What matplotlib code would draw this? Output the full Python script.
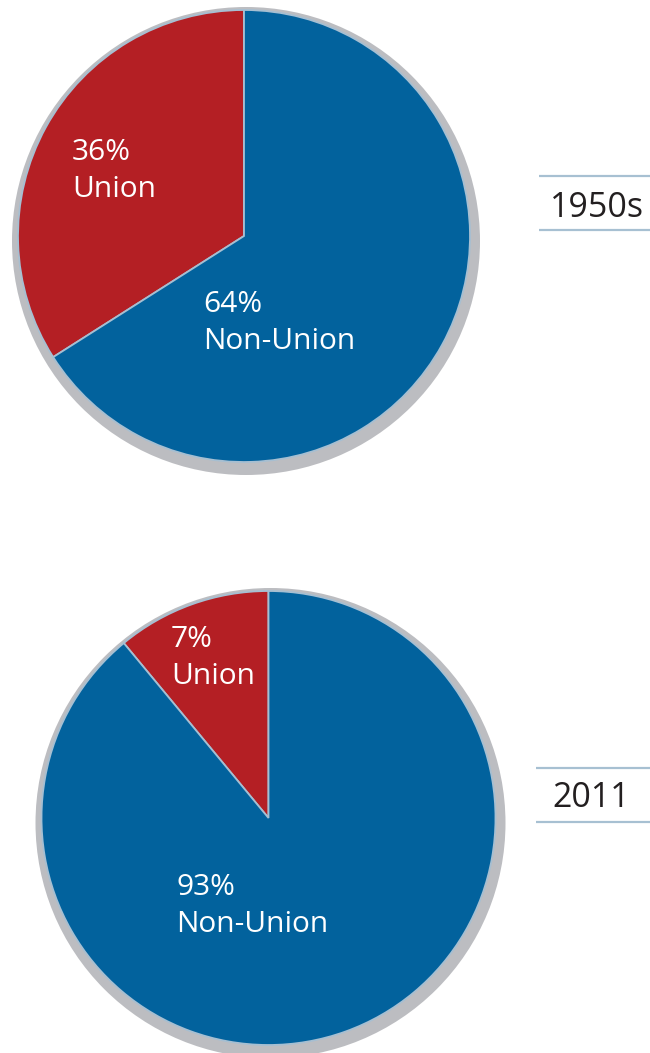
import matplotlib.pyplot as plt
from matplotlib.patches import Circle

# 数据
eras = ['1950s', '2011']
union_pct = [36, 7]          # printed labels
non_union_pct = [64, 93]
# wedge sizes as drawn in the graphic (the 2011 union slice is drawn wider than 7%)
union_drawn = [34, 11]
slice_names = ['Union', 'Non-Union']

# 样式
red = '#b41f24'
blue = '#02629d'
edge = '#a6bfd2'
shadow = '#bcbdc1'
rule = '#a7c0d2'

W, H = 650, 1053
fig = plt.figure(figsize=(W / 100, H / 100), dpi=100)
ax = fig.add_axes([0, 0, 1, 1])
ax.set_xlim(0, W)
ax.set_ylim(0, H)
ax.set_aspect('equal')
ax.axis('off')
plt.rcParams['font.family'] = ['Open Sans', 'DejaVu Sans']

# 饼图布局 (像素坐标, y向下)
centers = [(244, 236), (268.5, 818)]
radius = [226, 227]
label_pos = [((72, 160), (203, 312)), ((171, 647), (176, 895))]
year_pos = [(597, 217), (591, 807)]
rule_y = [(176, 230), (768, 822)]
rule_x0 = [539, 536]

for i, era in enumerate(eras):
    cx, cy = centers[i]
    cy = H - cy
    r = radius[i]

    # 阴影
    ax.add_patch(Circle((cx + 2, cy - 5), r + 8, color=shadow, zorder=0, lw=0))

    ax.pie([union_drawn[i], 100 - union_drawn[i]], colors=[red, blue],
           startangle=90, counterclock=True, center=(cx, cy), radius=r,
           wedgeprops=dict(edgecolor=edge, linewidth=1.3), frame=True)

    # 标签
    vals = [union_pct[i], non_union_pct[i]]
    for (lx, ly), v, name in zip(label_pos[i], vals, slice_names):
        ax.text(lx, H - ly, f'{v}%', color='white', fontsize=21.5,
                ha='left', va='baseline')
        ax.text(lx, H - ly - 37, name, color='white', fontsize=21.5,
                ha='left', va='baseline')

    # 年份
    yx, yy = year_pos[i]
    ax.text(yx, H - yy, era, color='#231f20', fontsize=24.5,
            ha='center', va='baseline')
    for ry in rule_y[i]:
        ax.plot([rule_x0[i], W], [H - ry, H - ry], color=rule, lw=1.6,
                solid_capstyle='butt')

ax.set_xlim(0, W)
ax.set_ylim(0, H)
ax.axis('off')

fig.savefig('out.png', dpi=100)
